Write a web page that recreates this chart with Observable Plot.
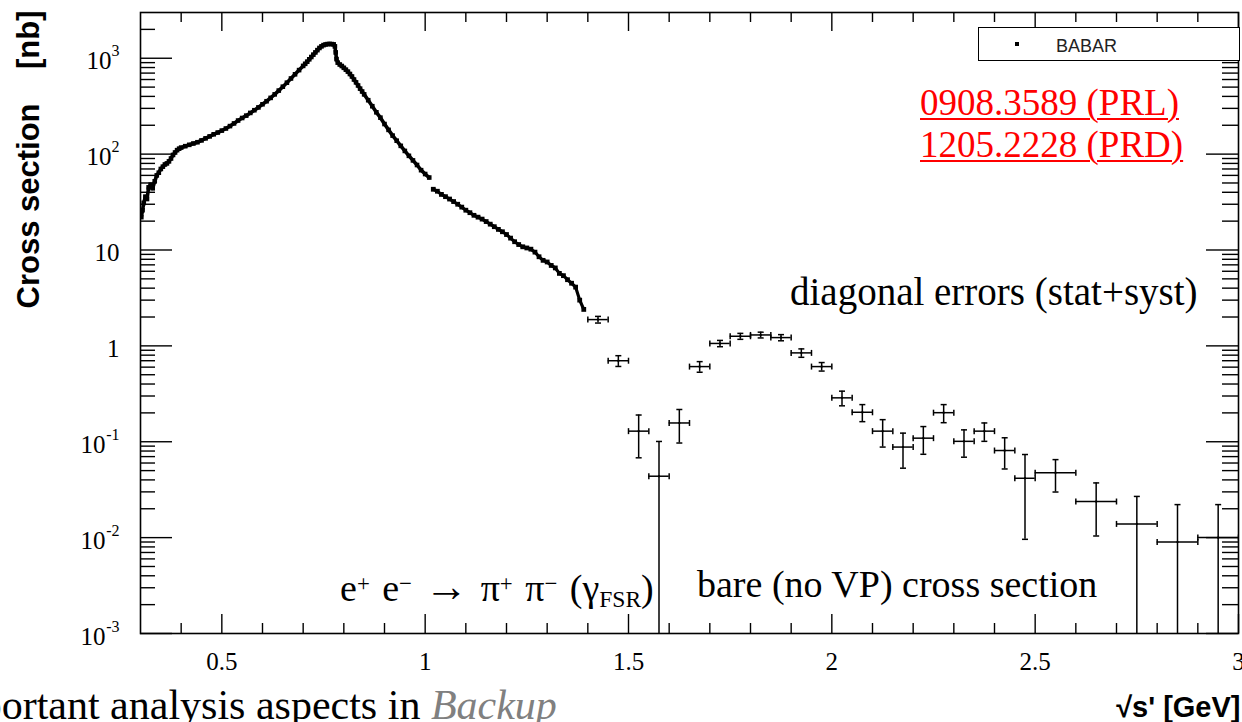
<!DOCTYPE html>
<html><head><meta charset="utf-8">
<script src="https://cdn.jsdelivr.net/npm/d3@7"></script>
<script src="https://cdn.jsdelivr.net/npm/@observablehq/plot@0.6"></script>
<style>
html,body{margin:0;padding:0;background:#fff;overflow:hidden;}
#wrap{position:relative;width:1242px;height:722px;overflow:hidden;}
#wrap svg{position:absolute;left:0;top:0;}
.ann{position:absolute;font-family:"Liberation Serif","Times New Roman",serif;white-space:nowrap;line-height:1;color:#000;}
.red{color:#ff0000;text-decoration:underline;text-decoration-thickness:2px;text-underline-offset:3px;font-size:37px;}
.sp{position:relative;top:-0.42em;font-size:0.6em;}
.sb{position:relative;top:0.25em;font-size:0.62em;}
#legend{position:absolute;left:978px;top:27px;width:262px;height:34px;border:1.5px solid #000;box-sizing:border-box;background:#fff;}
#legdot{position:absolute;left:1015px;top:42px;width:4px;height:4px;background:#000;}
#legtxt{position:absolute;left:1056px;top:37px;font-family:"Liberation Sans",Arial,sans-serif;font-size:18px;line-height:1;color:#222;}
</style></head><body><div id="wrap"></div>
<script>
// ---- rho region (dense points)
const rhoX = [0.302,0.305,0.308,0.312,0.316,0.320,0.325,0.330,0.335,0.340,0.345,0.350,0.355,0.360,0.365,0.370,0.375,0.380,0.385,0.390,0.395,0.400,
  0.41,0.42,0.43,0.44,0.45,0.46,0.47,0.48,0.49,0.50,0.51,0.52,0.53,0.54,0.55,0.56,0.57,0.58,0.59,0.60,0.61,0.62,0.63,0.64,0.65,0.66,0.67,0.68,0.69,
  0.70,0.705,0.71,0.715,0.72,0.725,0.73,0.735,0.74,0.745,0.75,0.755,0.76,0.765,0.77,0.775,0.778,0.780,0.782,0.785,0.79,0.795,0.80,0.805,0.81,0.815,
  0.82,0.825,0.83,0.835,0.84,0.845,0.85,0.86,0.87,0.88,0.89,0.90,0.91,0.92,0.93,0.94,0.95,0.96,0.97,0.98,0.99,1.00,1.01];
const rhoY = [22,26,31,36,34,45,48,44,52,60,64,70,74,78,80,84,90,98,104,110,114,117,
  121,125,129,133,139,146,153,161,168,176,185,196,209,224,238,252,269,287,307,331,356,386,420,460,505,556,615,680,752,
  832,875,921,975,1030,1090,1150,1215,1280,1330,1370,1392,1405,1410,1405,1395,1330,1150,980,900,860,830,795,760,725,685,
  645,600,560,520,482,450,420,365,316,273,240,206,179,156,138,122,108,96,86,77,68,62,57];
// ---- 1.0 - 1.4 GeV region
const tailX = [1.02,1.03,1.04,1.05,1.06,1.07,1.08,1.09,1.10,1.11,1.12,1.13,1.14,1.15,1.16,1.17,1.18,1.19,1.20,
  1.21,1.22,1.23,1.24,1.25,1.26,1.27,1.28,1.29,1.30,1.31,1.32,1.33,1.34,1.35,1.36,1.37,1.38,1.39];
const tailY = [43,41,38,36,34,32,30,28,26,24.5,23,22,21,19.8,18.6,17.5,16.4,15.5,14.5,
  13.3,12.2,11.4,10.8,10.5,10.2,9.5,8.5,7.8,7.5,6.9,6.5,5.7,5.4,4.9,4.5,4.1,3.0,2.4];
// ---- above 1.4 GeV (binned points with errors)
const hiX = [1.425,1.475,1.525,1.575,1.625,1.675,1.725,1.775,1.825,1.875,1.925,1.975,2.025,2.075,2.125,2.175,2.225,2.275,2.325,2.375,2.425,2.475,2.55,2.65,2.75,2.85,2.95];
const hiY = [1.88,0.70,0.129,0.0437,0.157,0.608,1.06,1.26,1.30,1.22,0.845,0.608,0.287,0.203,0.129,0.088,0.109,0.201,0.101,0.129,0.081,0.0416,0.0475,0.0238,0.0139,0.0090,0.0100];
const hiErr = [0.15,0.09,0.061,0.057,0.06,0.077,0.08,0.09,0.09,0.09,0.085,0.062,0.05,0.041,0.041,0.035,0.035,0.043,0.032,0.028,0.029,0.032,0.0176,0.0134,0.013,0.0131,0.0121];
const hiHalfWidth = [0.025,0.025,0.025,0.025,0.025,0.025,0.025,0.025,0.025,0.025,0.025,0.025,0.025,0.025,0.025,0.025,0.025,0.025,0.025,0.025,0.025,0.025,0.05,0.05,0.05,0.05,0.05];
// ---- axes
const xDomain = [0.3, 3.0];
const yDomain = [0.001, 3000];
const xTickValues = [0.5, 1, 1.5, 2, 2.5, 3];
const xTickLabels = ["0.5", "1", "1.5", "2", "2.5", "3"];
const yTickValues = [0.001, 0.01, 0.1, 1, 10, 100, 1000];
const yTickBase = ["10", "10", "10", "1", "10", "10", "10"];
const yTickExp = ["-3", "-2", "-1", "", "", "2", "3"];
const yTitle = "Cross section\u00a0\u00a0\u00a0\u00a0[nb]";
const xTitle = "\u221As' [GeV]";

const W = 1242, H = 722, mL = 140, mR = 4, mT = 12, mB = 89;
const plotW = W - mL - mR, plotH = H - mT - mB;

// minor ticks
const yMinor = [];
for (const d of [0.001, 0.01, 0.1, 1, 10, 100, 1000]) for (let m = 2; m <= 9; m++) { const v = +(m * d).toPrecision(3); if (v < yDomain[1]) yMinor.push(v); }
const xMinor = [];
for (let i = 4; i < 30; i++) if (i % 5 !== 0) xMinor.push(i / 10);

const rho = rhoX.map((x, i) => ({x, y: rhoY[i]}));
const tail = tailX.map((x, i) => ({x, y: tailY[i]}));
const hi = hiX.map((x, i) => ({x, y: hiY[i], e: hiErr[i], h: hiHalfWidth[i]}));
const yMin = yDomain[0];

const vCap = {draw(ctx) { ctx.moveTo(0, -3); ctx.lineTo(0, 3); }};
const hCap = {draw(ctx) { ctx.moveTo(-3, 0); ctx.lineTo(3, 0); }};

const yLab = yTickValues.map((v, i) => ({v, base: yTickBase[i], exp: yTickExp[i]}));
const expW = n => n === 0 ? 0 : n === 1 ? 8 : 14;
const serif = "Liberation Serif, Times New Roman, serif";
const sans = "Liberation Sans, Arial, sans-serif";

const labelMarks = [];
for (const len of [0, 1, 2]) {
  const grp = yLab.filter(d => d.exp.length === len);
  labelMarks.push(Plot.text(grp, {y: "v", frameAnchor: "left", text: "base", textAnchor: "end",
    dx: -21 - expW(len), dy: 3, fontSize: 25, fontFamily: serif, fill: "#000"}));
  if (len > 0) labelMarks.push(Plot.text(grp, {y: "v", frameAnchor: "left", text: "exp", textAnchor: "end",
    dx: -21, dy: -7, fontSize: 16, fontFamily: serif, fill: "#000"}));
}

const chart = Plot.plot({
  width: W, height: H,
  marginLeft: mL, marginRight: mR, marginTop: mT, marginBottom: mB,
  style: {background: "transparent", fontFamily: serif},
  x: {type: "linear", domain: xDomain, axis: null},
  y: {type: "log", domain: yDomain, axis: null},
  marks: [
    // ticks (ROOT style, inward on all four sides)
    Plot.tickY(yTickValues, {y: d => d, insetRight: plotW - 32, stroke: "#000", strokeWidth: 1.4}),
    Plot.tickY(yMinor, {y: d => d, insetRight: plotW - 15, stroke: "#000", strokeWidth: 1.4}),
    Plot.tickY(yTickValues, {y: d => d, insetLeft: plotW - 32, stroke: "#000", strokeWidth: 1.4}),
    Plot.tickY(yMinor, {y: d => d, insetLeft: plotW - 16, stroke: "#000", strokeWidth: 1.4}),
    Plot.tickX(xTickValues, {x: d => d, insetTop: plotH - 19, stroke: "#000", strokeWidth: 1.4}),
    Plot.tickX(xMinor, {x: d => d, insetTop: plotH - 10, stroke: "#000", strokeWidth: 1.4}),
    Plot.tickX(xTickValues, {x: d => d, insetBottom: plotH - 19, stroke: "#000", strokeWidth: 1.4}),
    Plot.tickX(xMinor, {x: d => d, insetBottom: plotH - 10, stroke: "#000", strokeWidth: 1.4}),
    // tick labels
    ...labelMarks,
    Plot.text(xTickValues, {x: d => d, frameAnchor: "bottom", text: (d, i) => xTickLabels[i], dy: 28,
      lineAnchor: "middle", fontSize: 25, fontFamily: serif, fill: "#000"}),
    // axis titles
    Plot.text([yTitle], {frameAnchor: "top-left", text: d => d, rotate: -90, textAnchor: "end", lineAnchor: "middle",
      dx: -111, dy: -2, fontSize: 31, fontWeight: "bold", fontFamily: sans, fill: "#000"}),
    Plot.text([xTitle], {frameAnchor: "bottom-right", text: d => d, textAnchor: "end", lineAnchor: "middle",
      dx: 2, dy: 74, fontSize: 29, fontWeight: "bold", fontFamily: sans, fill: "#000"}),
    // data: dense points
    Plot.line(rho, {x: "x", y: "y", stroke: "#000", strokeWidth: 3.6, clip: true}),
    Plot.dot(rho, {x: "x", y: "y", symbol: "square", r: 2.6, fill: "#000", clip: true}),
    Plot.line(tail, {x: "x", y: "y", stroke: "#000", strokeWidth: 3.2, clip: true}),
    Plot.dot(tail, {x: "x", y: "y", symbol: "square", r: 2.7, fill: "#000", clip: true}),
    // data: binned points with error bars
    Plot.ruleY(hi, {y: "y", x1: d => d.x - d.h, x2: d => d.x + d.h, stroke: "#000", strokeWidth: 1.5, clip: true}),
    Plot.ruleX(hi, {x: "x", y1: d => Math.max(d.y - d.e, yMin), y2: d => d.y + d.e, stroke: "#000", strokeWidth: 1.5, clip: true}),
    Plot.dot(hi, {x: d => d.x - d.h, y: "y", symbol: vCap, stroke: "#000", strokeWidth: 1.5, fill: "none", clip: true}),
    Plot.dot(hi, {x: d => d.x + d.h, y: "y", symbol: vCap, stroke: "#000", strokeWidth: 1.5, fill: "none", clip: true}),
    Plot.dot(hi, {x: "x", y: d => d.y + d.e, symbol: hCap, stroke: "#000", strokeWidth: 1.5, fill: "none", clip: true}),
    Plot.dot(hi.filter(d => d.y - d.e > yMin), {x: "x", y: d => d.y - d.e, symbol: hCap, stroke: "#000", strokeWidth: 1.5, fill: "none", clip: true}),
    Plot.dot(hi, {x: "x", y: "y", symbol: "square", r: 1.1, fill: "#000", clip: true}),
    Plot.frame({stroke: "#000", strokeWidth: 1.6})
  ]
});
const wrap = document.getElementById("wrap");
wrap.appendChild(chart);

// slide annotations / legend
const html = `
<div id="legend"></div><div id="legdot"></div><div id="legtxt">BABAR</div>
<div class="ann red" style="left:920px;top:84px;">0908.3589 (PRL)</div>
<div class="ann red" style="left:920px;top:126px;">1205.2228 (PRD)</div>
<div class="ann" style="left:790px;top:272px;font-size:39px;">diagonal errors (stat+syst)</div>
<div class="ann" style="left:340px;top:565px;font-size:38px;word-spacing:3px;">e<span class="sp">+</span> e<span class="sp">\u2212</span> <span style="font-size:1.15em">\u2192</span> \u03c0<span class="sp">+</span> \u03c0<span class="sp">\u2212</span> (\u03b3<span class="sb">FSR</span>)</div>
<div class="ann" style="left:697px;top:565px;font-size:38px;">bare (no VP) cross section</div>
<div class="ann" style="left:-66px;top:684px;font-size:42px;">Important analysis aspects in <i style="color:#808080">Backup</i></div>
`;
wrap.insertAdjacentHTML("beforeend", html);
</script></body></html>
